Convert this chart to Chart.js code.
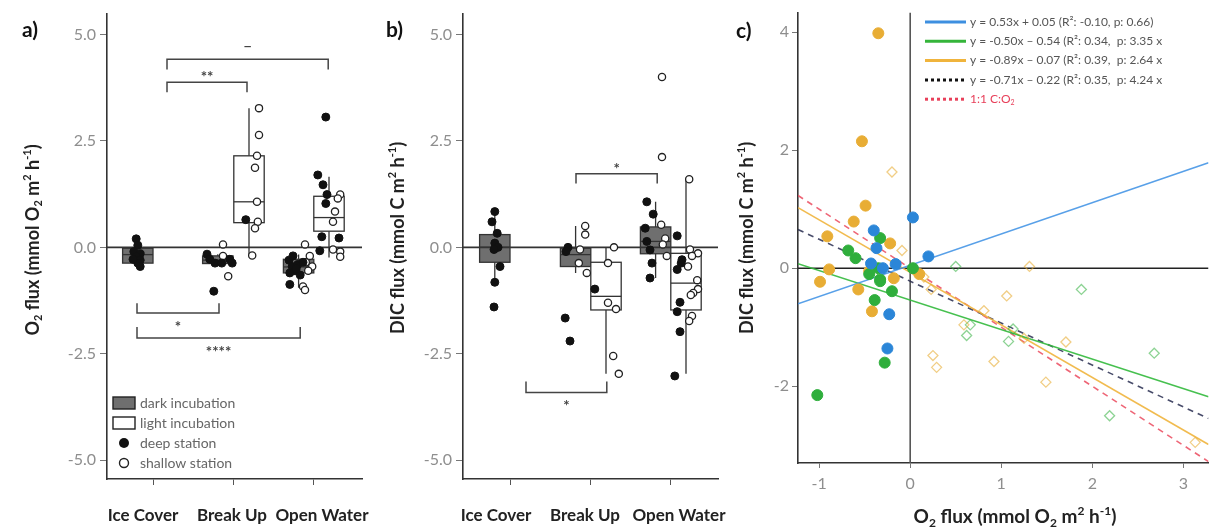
<!DOCTYPE html>
<html>
<head>
<meta charset="utf-8">
<script src="https://cdn.jsdelivr.net/npm/chart.js@4.4.1/dist/chart.umd.min.js"></script>
<style>
  body { margin: 0; background: #fff; overflow: hidden; width: 1215px; height: 531px; position: relative; }
  canvas { position: absolute; top: 0; }
  #ca { left: 0; }
  #cb { left: 370px; }
  #cc { left: 730px; }
</style>
</head>
<body>
<canvas id="ca" width="370" height="531"></canvas>
<canvas id="cb" width="360" height="531"></canvas>
<canvas id="cc" width="485" height="531"></canvas>
<script>
// ---- data ----
const seasons = ['Ice Cover', 'Break Up', 'Open Water'];
const boxTicks = [-5, -2.5, 0, 2.5, 5];

// panel a: O2 flux boxes (dark = dark incubation)
const aBoxX    = [0.81, 1.81, 2.2, 2.82, 3.2];
const aBoxDark = [true, true, false, true, false];
const aBoxLow  = [-0.45, -0.4, -0.19, -0.95, -0.24];
const aBoxQ1   = [-0.37, -0.38, 0.58, -0.6, 0.38];
const aBoxMed  = [-0.17, -0.3, 1.07, -0.46, 0.7];
const aBoxQ3   = [-0.02, -0.2, 2.15, -0.28, 1.2];
const aBoxHigh = [0.2, -0.16, 3.27, -0.17, 1.66];

const aDeepX = [0.79, 0.81, 0.76, 0.84, 0.79, 0.84, 0.81, 0.84, 0.75, 1.675, 1.71, 1.775, 1.86, 1.96, 1.99, 1.76, 2.16,
  2.7, 2.74, 2.775, 2.81, 2.71, 2.84, 2.75, 2.79, 2.875, 2.71, 3.16, 3.06, 3.125, 3.175, 3.16, 3.11, 3.325, 3.085];
const aDeepY = [0.2, 0.05, -0.1, -0.15, -0.22, -0.3, -0.37, -0.45, -0.28, -0.16, -0.28, -0.37, -0.37, -0.28, -0.37, -1.03, 0.65,
  -0.3, -0.45, -0.55, -0.4, -0.6, -0.65, -0.2, -0.5, -0.35, -0.87, 3.06, 1.7, 1.47, 1.24, 1.03, 0.25, 0.22, -0.08];
const aShallowX = [1.875, 1.875, 1.94, 2.325, 2.325, 2.3, 2.275, 2.3, 2.31, 2.275, 2.24,
  2.9, 2.96, 2.91, 2.99, 2.875, 2.9, 2.94, 3.34, 3.31, 3.275, 3.25, 3.34, 3.34, 3.25];
const aShallowY = [0.07, -0.2, -0.68, 3.27, 2.64, 2.15, 1.87, 1.07, 0.6, 0.45, -0.19,
  0.07, -0.2, -0.35, -0.45, -0.92, -1.0, -0.55, 1.24, 1.15, 0.84, 0.6, -0.1, -0.22, -0.05];

const aBrX1  = [1.175, 1.175, 0.8, 0.8];
const aBrX2  = [2.175, 3.19, 1.825, 2.84];
const aBrBar = [3.88, 4.42, -1.54, -2.13];
const aBrTip = [3.64, 4.18, -1.31, -1.87];
const aBrText = ['**', '\u2013', '*', '****'];

// panel b: DIC flux boxes
const bBoxX    = [0.81, 1.82, 2.2, 2.82, 3.2];
const bBoxDark = [true, true, false, true, false];
const bBoxLow  = [-0.82, -0.6, -2.97, -0.72, -2.97];
const bBoxQ1   = [-0.35, -0.45, -1.47, -0.15, -1.47];
const bBoxMed  = [0.0, -0.17, -1.15, 0.14, -0.84];
const bBoxQ3   = [0.3, -0.02, -0.35, 0.48, -0.14];
const bBoxHigh = [0.84, 0.5, 0.0, 1.07, 1.6];

const bDeepX = [0.81, 0.775, 0.84, 0.81, 0.85, 0.8, 0.875, 0.81, 0.8, 1.725, 1.7, 1.69, 1.75, 2.06,
  2.71, 2.79, 2.69, 2.71, 2.75, 2.775, 2.75, 3.09, 3.15, 3.14, 3.09, 3.125, 3.09, 3.125, 3.06];
const bDeepY = [0.84, 0.6, 0.33, 0.1, 0.0, -0.05, -0.45, -0.82, -1.4, 0.0, -0.1, -1.66, -2.2, -0.98,
  1.07, 0.78, 0.45, 0.14, -0.06, -0.37, -0.72, 0.27, -0.29, -0.37, -0.52, -1.29, -1.51, -1.98, -3.02];
const bShallowX = [1.94, 1.94, 1.875, 1.86, 1.96, 2.3, 2.225, 2.225, 2.325, 2.29, 2.36,
  2.89, 2.94, 2.91, 2.96, 2.9, 2.9, 3.24, 3.25, 3.35, 3.275, 3.225, 3.34, 3.35, 3.29, 3.26, 3.275, 3.24];
const bShallowY = [0.5, 0.3, -0.05, -0.37, -0.6, 0.0, -0.37, -1.3, -1.45, -2.55, -2.97,
  0.53, 0.21, 0.07, -0.2, 4.0, 2.12, 1.6, -0.05, -0.14, -0.2, -0.45, -0.77, -0.98, -1.07, -1.12, -1.61, -1.73];

const bBrX1  = [1.825, 1.2];
const bBrX2  = [2.84, 2.21];
const bBrBar = [1.73, -3.41];
const bBrTip = [1.5, -3.15];
const bBrText = ['*', '*'];

// panel c: DIC vs O2 flux
const cTicksX = [-1, 0, 1, 2, 3];
const cTicksY = [-2, 0, 2, 4];
const cBlueX = [0.03, 0.2, -0.4, -0.37, -0.43, -0.16, -0.23, -0.25, -0.3];
const cBlueY = [0.86, 0.2, 0.64, 0.34, 0.08, 0.07, -0.78, -1.36, 0.0];
const cGreenX = [-0.33, -0.68, -0.6, -0.35, -0.33, -0.2, -0.39, -0.33, -0.28, -1.02, 0.03, -0.45];
const cGreenY = [0.51, 0.3, 0.17, 0.0, -0.19, -0.39, -0.54, -0.22, -1.6, -2.15, 0.0, -0.1];
const cOrangeX = [-0.35, -0.53, -0.49, -0.62, -0.91, -0.22, -0.89, -0.45, -0.18, -0.99, -0.57, -0.42, 0.1];
const cOrangeY = [3.98, 2.15, 1.06, 0.79, 0.54, 0.42, -0.02, -0.05, -0.17, -0.23, -0.36, -0.73, -0.1];
const cLightOrangeX = [-0.2, -0.09, 1.06, 0.23, 0.59, 0.81, 1.71, 0.25, 0.29, 0.92, 1.49, 3.13, 1.25, 1.31, 0.15];
const cLightOrangeY = [1.63, 0.3, -0.47, -0.36, -0.96, -0.72, -1.25, -1.48, -1.68, -1.58, -1.93, -2.95, -1.19, 0.03, -0.15];
const cLightGreenX = [0.5, 1.88, 0.66, 0.62, 1.08, 2.68, 2.19, 1.13];
const cLightGreenY = [0.03, -0.36, -0.96, -1.14, -1.24, -1.44, -2.5, -1.03];

const fitSlope = [0.53, -0.50, -0.89, -0.71, -1];
const fitIntercept = [0.05, -0.54, -0.07, -0.22, 0];
const fitColor = ['rgba(70,150,230,0.9)', 'rgba(50,185,60,0.9)', 'rgba(240,180,60,0.9)', 'rgba(40,45,80,0.85)', 'rgba(235,75,95,0.85)'];
const fitLegendColor = ['#3d8fe0', '#35b53a', '#f0b43c', '#111', '#e8405a'];
const fitDashed = [false, false, false, true, true];
const fitText = [
  'y = 0.53x + 0.05 (R\u00b2: -0.10, p: 0.66)',
  'y = -0.50x \u2013 0.54 (R\u00b2: 0.34,  p: 3.35 x',
  'y = -0.89x \u2013 0.07 (R\u00b2: 0.39,  p: 2.64 x',
  'y = -0.71x \u2013 0.22 (R\u00b2: 0.35,  p: 4.24 x'
];

// ---- helpers ----
Chart.defaults.font.family = 'Lato, "Open Sans", sans-serif';
const FONT = 'Lato, "Open Sans", sans-serif';
const boxHalf = 0.19;

function pts(xs, ys) { return xs.map((x, i) => ({ x: x, y: ys[i] })); }

// text with sub/superscripts; parts: [text, 'sub'|'sup'|undefined]
function drawRich(ctx, parts, cx, cy, size, weight, color, angle, align) {
  ctx.save();
  ctx.translate(cx, cy);
  ctx.rotate(angle || 0);
  const fontOf = p => weight + ' ' + (p[1] ? Math.round(size * 0.62) : size) + 'px ' + FONT;
  let total = 0;
  parts.forEach(p => { ctx.font = fontOf(p); total += ctx.measureText(p[0]).width; });
  let x = align === 'left' ? 0 : -total / 2;
  ctx.textBaseline = 'middle';
  ctx.textAlign = 'left';
  ctx.fillStyle = color;
  parts.forEach(p => {
    ctx.font = fontOf(p);
    const dy = p[1] === 'sub' ? size * 0.3 : p[1] === 'sup' ? -size * 0.32 : 0;
    ctx.fillText(p[0], x, dy);
    x += ctx.measureText(p[0]).width;
  });
  ctx.restore();
}

const o2Title = [['O'], ['2', 'sub'], [' flux (mmol O'], ['2', 'sub'], [' m'], ['2', 'sup'], [' h'], ['-1', 'sup'], [')']];
const dicTitle = [['DIC flux (mmol C m'], ['2', 'sup'], [' h'], ['-1', 'sup'], [')']];

function boxPlugin(bx, dark, lo, q1, med, q3, hi) {
  return {
    id: 'boxes',
    beforeDatasetsDraw(chart) {
      const { ctx, scales: { x, y } } = chart;
      ctx.save();
      ctx.lineWidth = 1.3;
      ctx.strokeStyle = '#333';
      bx.forEach((cx, i) => {
        const l = x.getPixelForValue(cx - boxHalf), r = x.getPixelForValue(cx + boxHalf);
        const m = x.getPixelForValue(cx);
        const top = y.getPixelForValue(q3[i]), bot = y.getPixelForValue(q1[i]);
        ctx.beginPath();
        ctx.moveTo(m, y.getPixelForValue(hi[i])); ctx.lineTo(m, top);
        ctx.moveTo(m, bot); ctx.lineTo(m, y.getPixelForValue(lo[i]));
        ctx.stroke();
        ctx.fillStyle = dark[i] ? '#6f6f6f' : '#fff';
        ctx.fillRect(l, top, r - l, bot - top);
        ctx.strokeRect(l, top, r - l, bot - top);
        const md = y.getPixelForValue(med[i]);
        ctx.beginPath(); ctx.moveTo(l, md); ctx.lineTo(r, md); ctx.stroke();
      });
      ctx.restore();
    }
  };
}

function bracketSets(x1, x2, bar, tip) {
  return x1.map((v, i) => ({
    type: 'line', showLine: true, pointRadius: 0, borderColor: '#444', borderWidth: 1.5, order: 4,
    data: [{ x: v, y: tip[i] }, { x: v, y: bar[i] }, { x: x2[i], y: bar[i] }, { x: x2[i], y: tip[i] }]
  }));
}

function bracketText(x1, x2, bar, tip, txt) {
  return {
    id: 'brtext',
    afterDatasetsDraw(chart) {
      const { ctx, scales: { x, y } } = chart;
      ctx.save();
      ctx.fillStyle = '#444';
      ctx.textAlign = 'center';
      ctx.textBaseline = 'middle';
      txt.forEach((t, i) => {
        const cx = x.getPixelForValue((x1[i] + x2[i]) / 2);
        const by = y.getPixelForValue(bar[i]);
        const up = tip[i] < bar[i];
        ctx.font = (t === '\u2013' ? '600 16px ' : 'bold 15px ') + FONT;
        ctx.fillText(t, cx, up ? by - (t === '\u2013' ? 13 : 5) : by + 14);
      });
      ctx.restore();
    }
  };
}

// category names drawn under the axis, nudged like the original layout
function seasonLabels(shift) {
  return {
    id: 'seasons',
    afterDraw(chart) {
      const { ctx, scales: { x } } = chart;
      ctx.save();
      ctx.font = 'bold 17px ' + FONT;
      ctx.fillStyle = '#222';
      ctx.textAlign = 'center';
      ctx.textBaseline = 'middle';
      seasons.forEach((s, i) => ctx.fillText(s, x.getPixelForValue(i + 1) + shift[i], 516));
      ctx.restore();
    }
  };
}

function boxChart(id, padRight, yWidth, xmin, xmax, deep, shallow, brackets, plugins) {
  return new Chart(document.getElementById(id), {
    type: 'scatter',
    data: {
      datasets: [
        { data: deep, pointRadius: 4, backgroundColor: '#111', borderColor: '#111', borderWidth: 1, order: 0 },
        { data: shallow, pointRadius: 3.6, backgroundColor: '#fff', borderColor: '#222', borderWidth: 1.3, order: 1 },
        { type: 'line', showLine: true, pointRadius: 0, borderColor: '#333', borderWidth: 1.6, order: 3,
          data: [{ x: xmin, y: 0 }, { x: xmax, y: 0 }] }
      ].concat(brackets)
    },
    options: {
      responsive: false,
      animation: false,
      layout: { padding: { left: 0, right: padRight, top: 12, bottom: 0 } },
      plugins: { legend: { display: false }, tooltip: { enabled: false } },
      scales: {
        x: {
          type: 'linear', min: xmin, max: xmax,
          afterBuildTicks: s => { s.ticks = [1, 2, 3].map(v => ({ value: v })); },
          afterFit: s => { s.height = 52; },
          ticks: { display: false },
          grid: { drawOnChartArea: false, tickLength: 6, tickColor: '#555' },
          border: { color: '#333', width: 1.6 }
        },
        y: {
          min: -5.44, max: 5.49,
          afterBuildTicks: s => { s.ticks = boxTicks.map(v => ({ value: v })); },
          afterFit: s => { s.width = yWidth; },
          ticks: { callback: v => v.toFixed(1), color: '#8e8e8e', font: { size: 16 }, padding: 4 },
          grid: { drawOnChartArea: false, tickLength: 7, tickColor: '#777' },
          border: { color: '#333', width: 1.6 }
        }
      }
    },
    plugins: plugins
  });
}

// ---- panel a ----
boxChart('ca', 8, 107, 0.425, 3.6125, pts(aDeepX, aDeepY), pts(aShallowX, aShallowY),
  bracketSets(aBrX1, aBrX2, aBrBar, aBrTip), [
    boxPlugin(aBoxX, aBoxDark, aBoxLow, aBoxQ1, aBoxMed, aBoxQ3, aBoxHigh),
    bracketText(aBrX1, aBrX2, aBrBar, aBrTip, aBrText),
    seasonLabels([-10, -1, 9]),
    {
      id: 'decorA',
      afterDraw(chart) {
        const ctx = chart.ctx;
        ctx.save();
        ctx.font = 'bold 21px ' + FONT;
        ctx.fillStyle = '#111';
        ctx.textBaseline = 'middle';
        ctx.fillText('a)', 22, 30);
        drawRich(ctx, o2Title, 33, 240, 18, 'bold', '#222', -Math.PI / 2);
        // legend
        const names = ['dark incubation', 'light incubation', 'deep station', 'shallow station'];
        const ys = [403, 423, 443, 463];
        ctx.lineWidth = 1.4;
        ctx.strokeStyle = '#222';
        ctx.fillStyle = '#6f6f6f';
        ctx.fillRect(113, ys[0] - 6, 22, 12); ctx.strokeRect(113, ys[0] - 6, 22, 12);
        ctx.fillStyle = '#fff';
        ctx.fillRect(113, ys[1] - 6, 22, 12); ctx.strokeRect(113, ys[1] - 6, 22, 12);
        ctx.fillStyle = '#111';
        ctx.beginPath(); ctx.arc(124, ys[2], 5, 0, Math.PI * 2); ctx.fill();
        ctx.beginPath(); ctx.arc(124, ys[3], 4.5, 0, Math.PI * 2); ctx.stroke();
        ctx.fillStyle = '#666';
        ctx.font = '14px ' + FONT;
        names.forEach((n, i) => ctx.fillText(n, 140, ys[i]));
        ctx.restore();
      }
    }
  ]);

// ---- panel b ----
boxChart('cb', 12, 93, 0.4125, 3.6, pts(bDeepX, bDeepY), pts(bShallowX, bShallowY),
  bracketSets(bBrX1, bBrX2, bBrBar, bBrTip), [
    boxPlugin(bBoxX, bBoxDark, bBoxLow, bBoxQ1, bBoxMed, bBoxQ3, bBoxHigh),
    bracketText(bBrX1, bBrX2, bBrBar, bBrTip, bBrText),
    seasonLabels([-14, -5, 9]),
    {
      id: 'decorB',
      afterDraw(chart) {
        const ctx = chart.ctx;
        ctx.save();
        ctx.font = 'bold 21px ' + FONT;
        ctx.fillStyle = '#111';
        ctx.textBaseline = 'middle';
        ctx.fillText('b)', 16, 30);
        drawRich(ctx, dicTitle, 28, 238, 18, 'bold', '#222', -Math.PI / 2);
        ctx.restore();
      }
    }
  ]);

// ---- panel c ----
const cxMin = -1.232, cxMax = 3.276, cyMin = -3.30, cyMax = 4.33;
const fitSets = fitSlope.map((m, i) => ({
  type: 'line', showLine: true, pointRadius: 0, borderWidth: 1.6, order: 5,
  borderColor: fitColor[i], borderDash: fitDashed[i] ? [6, 5] : [],
  data: [{ x: cxMin, y: m * cxMin + fitIntercept[i] }, { x: cxMax, y: m * cxMax + fitIntercept[i] }]
}));

new Chart(document.getElementById('cc'), {
  type: 'scatter',
  data: {
    datasets: [
      { data: pts(cBlueX, cBlueY), pointRadius: 5.5, backgroundColor: '#2b86d8', borderColor: '#2b86d8', order: 0 },
      { data: pts(cGreenX, cGreenY), pointRadius: 5.5, backgroundColor: '#2fae3c', borderColor: '#2fae3c', order: 0 },
      { data: pts(cOrangeX, cOrangeY), pointRadius: 5.5, backgroundColor: '#e8ad35', borderColor: '#e8ad35', order: 0 },
      { data: pts(cLightOrangeX, cLightOrangeY), pointStyle: 'rectRot', pointRadius: 5, backgroundColor: 'rgba(0,0,0,0)',
        borderColor: 'rgba(232,173,53,0.6)', borderWidth: 1.3, order: 1 },
      { data: pts(cLightGreenX, cLightGreenY), pointStyle: 'rectRot', pointRadius: 5, backgroundColor: 'rgba(0,0,0,0)',
        borderColor: 'rgba(47,174,60,0.55)', borderWidth: 1.3, order: 1 },
      { type: 'line', showLine: true, pointRadius: 0, borderColor: '#222', borderWidth: 1.6, order: 6,
        data: [{ x: cxMin, y: 0 }, { x: cxMax, y: 0 }] },
      { type: 'line', showLine: true, pointRadius: 0, borderColor: '#555', borderWidth: 1.6, order: 6,
        data: [{ x: 0, y: cyMin }, { x: 0, y: cyMax }] }
    ].concat(fitSets)
  },
  options: {
    responsive: false,
    animation: false,
    layout: { padding: { left: 0, right: 0, top: 10, bottom: 0 } },
    plugins: { legend: { display: false }, tooltip: { enabled: false } },
    scales: {
      x: {
        type: 'linear', min: cxMin, max: cxMax,
        afterBuildTicks: s => { s.ticks = cTicksX.map(v => ({ value: v })); },
        afterFit: s => { s.height = 68; },
        ticks: { color: '#8e8e8e', font: { size: 16 }, padding: 6, autoSkip: false, maxRotation: 0 },
        grid: { drawOnChartArea: false, tickLength: 5, tickColor: '#777' },
        border: { color: '#333', width: 1.6 }
      },
      y: {
        min: cyMin, max: cyMax,
        afterBuildTicks: s => { s.ticks = cTicksY.map(v => ({ value: v })); },
        afterFit: s => { s.width = 68; },
        ticks: { color: '#8e8e8e', font: { size: 16 }, padding: 3 },
        grid: { drawOnChartArea: false, tickLength: 6, tickColor: '#777' },
        border: { color: '#333', width: 1.6 }
      }
    }
  },
  plugins: [{
    id: 'decorC',
    afterDraw(chart) {
      const ctx = chart.ctx;
      ctx.save();
      ctx.font = 'bold 21px ' + FONT;
      ctx.fillStyle = '#111';
      ctx.textBaseline = 'middle';
      ctx.fillText('c)', 6, 31);
      drawRich(ctx, dicTitle, 17, 238, 18, 'bold', '#222', -Math.PI / 2);
      drawRich(ctx, o2Title, 285, 517, 19, 'bold', '#222', 0);
      // fit legend
      fitLegendColor.forEach((c, i) => {
        const y = 22 + i * 19.3;
        ctx.beginPath();
        ctx.strokeStyle = c;
        ctx.lineWidth = 3;
        ctx.setLineDash(fitDashed[i] ? [3, 3] : []);
        ctx.moveTo(195, y); ctx.lineTo(236, y);
        ctx.stroke();
        ctx.setLineDash([]);
        if (i < fitText.length) {
          ctx.font = '12px ' + FONT;
          ctx.fillStyle = '#555';
          ctx.fillText(fitText[i], 240, y);
        } else {
          drawRich(ctx, [['1:1 C:O'], ['2', 'sub']], 240, y, 12, 'normal', '#e8405a', 0, 'left');
        }
      });
      ctx.restore();
    }
  }]
});
</script>
</body>
</html>
